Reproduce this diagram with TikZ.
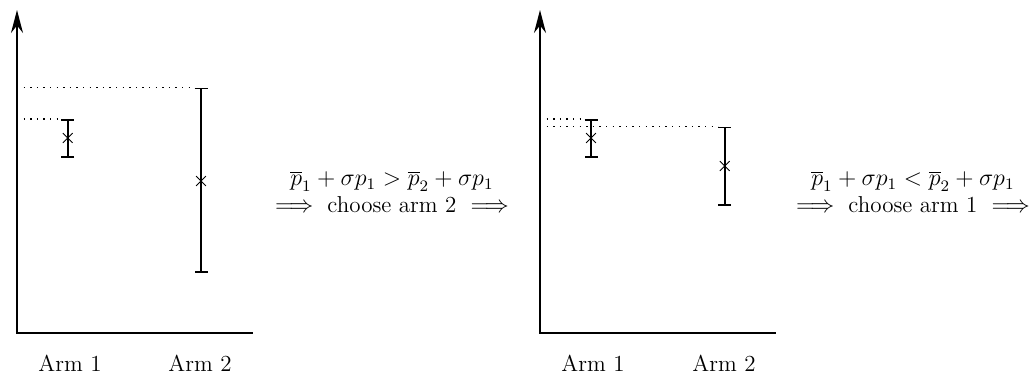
\documentclass[tikz,border=0pt]{standalone}
\usepackage{amsmath}
\usetikzlibrary{arrows.meta, shapes.misc}

\begin{document}
\begin{tikzpicture}[
    x=0.5pt, y=-0.5pt,
    axis/.style={-{Stealth[length=11.5pt, width=6pt]}, line width=0.9pt},
    errbar/.style={{Bar[width=6.5pt]}-{Bar[width=6.5pt]}, line width=0.9pt},
    meanmark/.style={cross out, draw, line width=0.4pt, minimum size=4.5pt, inner sep=0pt},
    guide/.style={line width=0.7pt, dash pattern=on 0.7pt off 2.6pt},
    armlabel/.style={font=\fontsize{11.5}{13}\selectfont},
    decision/.style={align=center, inner sep=1pt, font=\fontsize{11.5}{13.5}\selectfont}
]
    \useasboundingbox (0,0) rectangle (1030,374);

    % ---- Left panel ----
    \coordinate (L-top) at (17,10);
    \coordinate (L-O) at (17,332.7);
    \coordinate (L-end) at (252.7,332.7);
    \draw[axis] (L-end) -- (L-O) -- (L-top);

    % Arm 1
    \coordinate (L1-hi) at (67.7,119);
    \coordinate (L1-lo) at (67.7,157.7);
    \draw[errbar] (L1-hi) -- (L1-lo);
    \node[meanmark] (L1-mean) at (67.7,138) {};

    % Arm 2
    \coordinate (L2-hi) at (201,87.7);
    \coordinate (L2-lo) at (201,273);
    \draw[errbar] (L2-hi) -- (L2-lo);
    \node[meanmark] (L2-mean) at (201,181) {};

    % Upper bounds
    \draw[guide] (17,87.7) -- ([xshift=-3.25pt]L2-hi);
    \draw[guide] (17,119) -- ([xshift=-3.25pt]L1-hi);

    \node[armlabel] (L1-label) at (70,363) {Arm 1};
    \node[armlabel] (L2-label) at (200,363) {Arm 2};

    % Decision 1
    \node[decision] (step1) at (392,192)
        {$\overline{p}_1 + \sigma p_1 > \overline{p}_2 + \sigma p_1$\\
         $\implies$ choose arm 2 $\implies$};

    % ---- Right panel ----
    \coordinate (R-top) at (540,10);
    \coordinate (R-O) at (540,332.7);
    \coordinate (R-end) at (775.7,332.7);
    \draw[axis] (R-end) -- (R-O) -- (R-top);

    % Arm 1
    \coordinate (R1-hi) at (591,119);
    \coordinate (R1-lo) at (591,157.7);
    \draw[errbar] (R1-hi) -- (R1-lo);
    \node[meanmark] (R1-mean) at (591,138) {};

    % Arm 2
    \coordinate (R2-hi) at (724.7,126.7);
    \coordinate (R2-lo) at (724.7,205.7);
    \draw[errbar] (R2-hi) -- (R2-lo);
    \node[meanmark] (R2-mean) at (724.7,166) {};

    % Upper bounds
    \draw[guide] (540,119) -- ([xshift=-3.25pt]R1-hi);
    \draw[guide] (540,126.7) -- ([xshift=-3.25pt]R2-hi);

    \node[armlabel] (R1-label) at (593,363) {Arm 1};
    \node[armlabel] (R2-label) at (724,363) {Arm 2};

    % Decision 2
    \node[decision] (step2) at (913,192)
        {$\overline{p}_1 + \sigma p_1 < \overline{p}_2 + \sigma p_1$\\
         $\implies$ choose arm 1 $\implies$};

\end{tikzpicture}
\end{document}
